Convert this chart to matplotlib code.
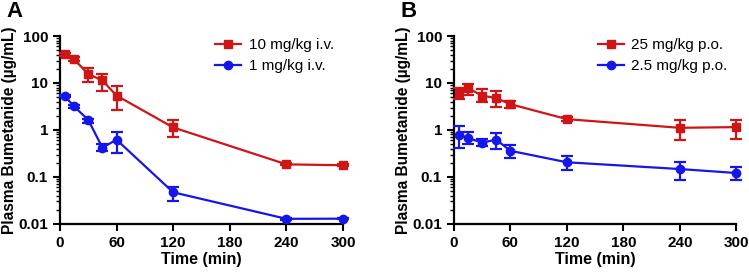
import numpy as np
import matplotlib.pyplot as plt
from matplotlib.lines import Line2D
from matplotlib.ticker import LogLocator, NullFormatter, FixedLocator

plt.rcParams['font.family'] = ['Liberation Sans', 'DejaVu Sans']

time = [5, 15, 30, 45, 60, 120, 240, 300]

# panel A, i.v. dosing
iv10 = [41, 32, 15.5, 11.3, 5.4, 1.13, 0.185, 0.177]
iv10_hi = [44, 35, 21, 15.6, 8.7, 1.64, 0.195, 0.185]
iv10_lo = [38, 29, 10.5, 6.9, 2.7, 0.71, 0.176, 0.170]
iv1 = [5.3, 3.16, 1.64, 0.42, 0.62, 0.047, 0.0128, 0.0129]
iv1_hi = [5.6, 3.35, 1.75, 0.50, 0.89, 0.062, 0.0133, 0.0134]
iv1_lo = [5.0, 2.97, 1.40, 0.35, 0.33, 0.031, 0.0123, 0.0124]

# panel B, oral dosing
po25 = [6.05, 7.75, 5.4, 4.75, 3.54, 1.70, 1.11, 1.15]
po25_hi = [7.8, 9.6, 7.4, 6.6, 4.2, 1.85, 1.64, 1.64]
po25_lo = [4.6, 5.6, 4.0, 3.1, 2.9, 1.55, 0.60, 0.65]
po2_5 = [0.79, 0.67, 0.54, 0.62, 0.36, 0.205, 0.147, 0.121]
po2_5_hi = [1.19, 0.90, 0.64, 0.86, 0.48, 0.28, 0.21, 0.16]
po2_5_lo = [0.42, 0.49, 0.45, 0.40, 0.25, 0.14, 0.088, 0.084]

xticks = [0, 60, 120, 180, 240, 300]
red = '#cf1515'
blue = '#1616e8'


def draw(ax, y1, hi1, lo1, lab1, y2, hi2, lo2, lab2, letter):
    handles = []
    for y, hi, lo, c, m, lab in [(y1, hi1, lo1, red, 's', lab1),
                                  (y2, hi2, lo2, blue, 'o', lab2)]:
        y = np.array(y)
        err = [y - np.array(lo), np.array(hi) - y]
        ax.errorbar(time, y, yerr=err, color=c, marker=m, ms=6, lw=1.6,
                    elinewidth=1.6, capsize=4, capthick=1.6,
                    clip_on=False, zorder=3)
        handles.append(Line2D([], [], color=c, marker=m, ms=6, lw=1.6,
                              label=lab))
    ax.set_yscale('log')
    ax.set_ylim(0.01, 100)
    ax.set_xlim(0, 300)
    ax.xaxis.set_major_locator(FixedLocator(xticks))
    ax.yaxis.set_major_locator(FixedLocator([0.01, 0.1, 1, 10, 100]))
    ax.yaxis.set_major_formatter(plt.FuncFormatter(lambda v, p: '%g' % v))
    ax.yaxis.set_minor_locator(LogLocator(base=10, subs=np.arange(2, 10)))
    ax.yaxis.set_minor_formatter(NullFormatter())
    for s in ['top', 'right']:
        ax.spines[s].set_visible(False)
    for s in ['left', 'bottom']:
        ax.spines[s].set_linewidth(1.6)
    ax.tick_params(axis='both', which='major', length=5, width=1.5,
                   labelsize=11)
    ax.tick_params(axis='y', which='minor', length=3, width=1.0)
    for t in ax.get_xticklabels() + ax.get_yticklabels():
        t.set_fontweight('bold')
    ax.set_xlabel('Time (min)', fontsize=11.5, fontweight='bold', labelpad=2)
    ax.set_ylabel('Plasma Bumetanide (\u00b5g/mL)', fontsize=11.2,
                  fontweight='bold', labelpad=1)
    ax.legend(handles=handles, loc='upper right', frameon=False, fontsize=11,
              handlelength=1.7, handletextpad=0.5, borderaxespad=0.0,
              labelspacing=0.45, bbox_to_anchor=(0.99, 1.02))
    ax.text(-0.19, 1.185, letter, transform=ax.transAxes, fontsize=16,
            fontweight='bold', va='top', ha='left')


fig = plt.figure(figsize=(7.49, 2.73), dpi=100)
ax1 = fig.add_axes([0.080, 0.180, 0.378, 0.688])
ax2 = fig.add_axes([0.606, 0.180, 0.377, 0.688])
draw(ax1, iv10, iv10_hi, iv10_lo, '10 mg/kg i.v.',
     iv1, iv1_hi, iv1_lo, '1 mg/kg i.v.', 'A')
draw(ax2, po25, po25_hi, po25_lo, '25 mg/kg p.o.',
     po2_5, po2_5_hi, po2_5_lo, '2.5 mg/kg p.o.', 'B')
fig.savefig('out.png', dpi=100)
